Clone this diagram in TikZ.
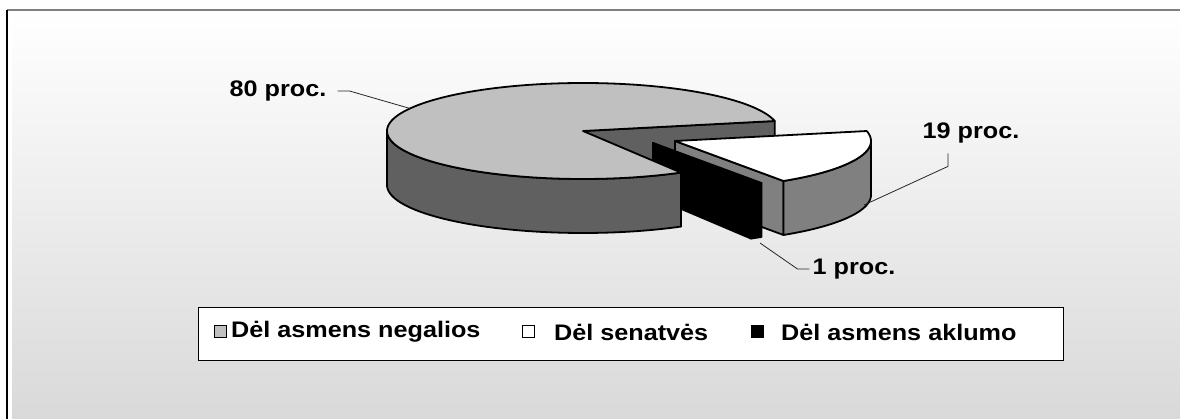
\documentclass[tikz,border=0pt]{standalone}
\usepackage{fontspec}
\newfontfamily\labfont[FakeStretch=1.12]{Liberation Sans}
\definecolor{topg}{HTML}{C0C0C0}
\definecolor{wallg}{HTML}{606060}
\definecolor{sideg}{HTML}{808080}
\definecolor{bgbot}{HTML}{D9D9D9}
\begin{document}
\begin{tikzpicture}[x=1pt,y=-1pt,
  face/.style={draw=black,line width=1.8pt,line join=round},
  topface/.style={face,fill=topg},
  wallface/.style={face,fill=wallg},
  sideface/.style={face,fill=sideg},
  whiteface/.style={face,fill=white},
  blackface/.style={face,fill=black},
  lbl/.style={inner sep=0pt,font=\labfont\bfseries\fontsize{22.5}{26}\selectfont},
  leader/.style={draw=black!85,line width=0.8pt},
  sq/.style={draw=black,line width=1pt,minimum size=12pt,inner sep=0pt}]
\useasboundingbox (0,0) rectangle (1180,419);
% background
\fill[white] (0,0) rectangle (1180,419);
\shade[top color=white,bottom color=bgbot] (12,12) rectangle (1180,419);
\draw[line width=2pt,color=sideg] (7,10) -- (1180,10);
\draw[line width=1.5pt] (7,10) -- (7,419);
% main slice: cut face at 12 deg
\path[wallface] (583,131) -- ({583+196*cos(12)},{131-48*sin(12)}) -- ({583+196*cos(12)},{185-48*sin(12)}) -- (583,185) -- cycle;
% white slice (19%), apex (675,141)
\path[sideface] (675,141) -- ({675+196*cos(-56.4)},{141-48*sin(-56.4)}) -- ({675+196*cos(-56.4)},{195-48*sin(-56.4)}) -- (675,195) -- cycle;
\path[sideface] plot[domain=-56.4:0,samples=40] ({675+196*cos(\x)},{141-48*sin(\x)}) -- plot[domain=0:-56.4,samples=40] ({675+196*cos(\x)},{195-48*sin(\x)}) -- cycle;
\path[whiteface] (675,141) -- plot[domain=-56.4:12,samples=60] ({675+196*cos(\x)},{141-48*sin(\x)}) -- cycle;
% black slice (1%), apex (653,143)
\path[blackface] (653,143) -- ({653+196*cos(-60)},{143-48*sin(-60)}) -- ({653+196*cos(-60)},{197-48*sin(-60)}) -- (653,197) -- cycle;
\path[blackface] plot[domain=-60:-56.4,samples=8] ({653+196*cos(\x)},{143-48*sin(\x)}) -- plot[domain=-56.4:-60,samples=8] ({653+196*cos(\x)},{197-48*sin(\x)}) -- cycle;
\path[blackface] (653,143) -- plot[domain=-60:-56.4,samples=8] ({653+196*cos(\x)},{143-48*sin(\x)}) -- cycle;
% main slice (80%)
\path[wallface] plot[domain=180:300,samples=80] ({583+196*cos(\x)},{131-48*sin(\x)}) -- plot[domain=300:180,samples=80] ({583+196*cos(\x)},{185-48*sin(\x)}) -- cycle;
\path[topface] (583,131) -- plot[domain=12:300,samples=150] ({583+196*cos(\x)},{131-48*sin(\x)}) -- cycle;
% leader anchor points
\coordinate (p80) at ({583+196*cos(152)},{131-48*sin(152)});
\coordinate (p19) at (864,205);
\coordinate (p1) at (760,243);
% labels
\node[lbl] (l80) at (278,91) {80 proc.};
\node[lbl] (l19) at (971,133) {19 proc.};
\node[lbl] (l1) at (854,269) {1 proc.};
\draw[leader] ([xshift=11pt]l80.east) -- ([xshift=23pt]l80.east) -- (p80);
\draw[leader] ([shift={(-23,10)}]l19.south) -- ([shift={(-23,23)}]l19.south) -- (p19);
\draw[leader] ([xshift=-3pt]l1.west) -- ([xshift=-15pt]l1.west) -- (p1);
% legend
\node[draw=black,fill=white,line width=1pt,minimum width=865pt,minimum height=52pt,inner sep=0pt] (leg) at (630.5,334) {};
\node[sq,fill=topg] (s1) at (220,332) {};
\node[lbl,anchor=west] (t1) at (231,332) {Dėl asmens negalios};
\node[sq,fill=white] (s2) at (528,332) {};
\node[lbl,anchor=west] (t2) at (554,332) {Dėl senatvės};
\node[sq,fill=black] (s3) at (757,332) {};
\node[lbl,anchor=west] (t3) at (781,332) {Dėl asmens aklumo};
\end{tikzpicture}
\end{document}
